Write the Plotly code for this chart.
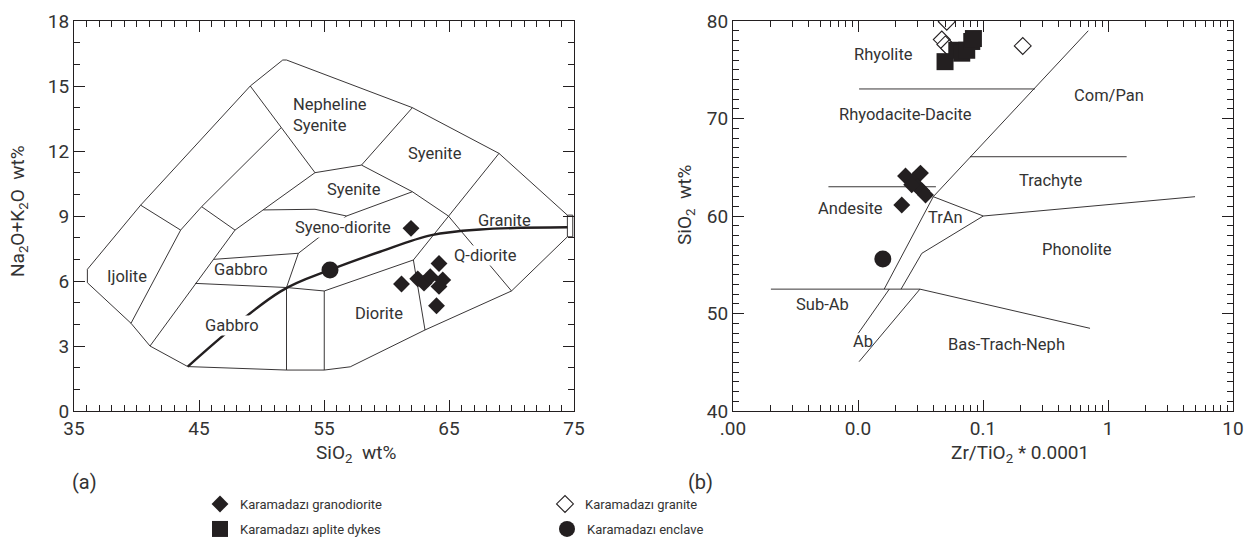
import math
import plotly.graph_objects as go

# ---------------- (a) TAS plutonic diagram: field boundaries (SiO2, Na2O+K2O) ----------------
TAS_OUTER = [(36.07, 6.54), (40.33, 9.5), (49.1, 15.0), (51.7, 16.2), (52.0, 16.2), (62.07, 14.0),
             (69.0, 11.89), (74.47, 9.04), (74.47, 8.04), (70.0, 5.54), (63.08, 3.74), (57.1, 2.04),
             (55.02, 1.89), (52.0, 1.89), (44.1, 2.05), (41.08, 3.0), (39.56, 4.05), (36.07, 5.92),
             (36.07, 6.54)]
TAS_IJOLITE_TOP = [(40.33, 9.5), (43.53, 8.35)]
TAS_IJOLITE_RIGHT = [(39.56, 4.05), (43.53, 8.35), (45.21, 9.43), (51.56, 13.07)]
TAS_SHORT = [(45.21, 9.43), (47.88, 8.35)]
TAS_GABBRO_LEFT = [(41.08, 3.0), (47.88, 8.35), (54.28, 11.0)]
TAS_NEPH_RIGHT = [(49.1, 15.0), (54.28, 11.0)]
TAS_SYENITE_TOP = [(54.28, 11.0), (58.0, 11.35), (62.07, 14.0)]
TAS_GRANITE_LEFT = [(58.0, 11.35), (62.07, 10.12), (64.95, 9.0), (70.0, 5.54)]
TAS_GRANITE_QD = [(69.0, 11.89), (62.15, 6.97), (63.08, 3.74)]
TAS_SYENITE_BOTTOM = [(50.15, 9.28), (54.28, 9.31), (56.8, 9.0), (62.07, 10.12)]
TAS_SYENODIORITE_LEFT = [(56.8, 9.0), (52.95, 7.28), (52.0, 5.7), (52.0, 1.89)]
TAS_GABBRO_MID = [(46.2, 7.0), (52.95, 7.28)]
TAS_DIORITE_TOP = [(44.7, 5.89), (52.0, 5.7), (55.02, 5.54), (62.15, 6.97)]
TAS_DIORITE_LEFT = [(55.02, 5.54), (55.02, 1.89)]
TAS_EDGE_BOX = [(74.47, 9.04), (74.9, 9.04), (74.9, 8.04), (74.47, 8.04)]
TAS_ALKALINE = [(44.1, 2.05), (51.5, 5.51), (55.48, 6.51), (59.48, 7.35), (63.6, 8.12),
                (67.48, 8.38), (74.47, 8.48)]

TAS_LABELS = ["Ijolite", "Gabbro", "Gabbro", "Diorite", "Q-diorite", "Granite",
              "Syeno-diorite", "Syenite", "Syenite", "Nepheline<br>Syenite"]
TAS_LABEL_X = [39.24, 48.34, 47.64, 59.4, 67.88, 69.44, 56.48, 57.36, 63.86, 52.44]
TAS_LABEL_Y = [6.21, 6.53, 3.95, 4.52, 7.2, 8.79, 8.45, 10.22, 11.88, 13.64]
TAS_LABEL_MASK = [False, False, True, False, True, False, True, False, False, False]

# samples (a)
GRANODIORITE_A_SIO2 = [61.96, 61.2, 62.5, 63.0, 63.5, 64.2, 64.5, 64.2, 64.0]
GRANODIORITE_A_ALK = [8.43, 5.86, 6.1, 5.9, 6.2, 6.81, 6.05, 5.75, 4.86]
ENCLAVE_A_SIO2 = [55.48]
ENCLAVE_A_ALK = [6.51]

# ---------------- (b) Winchester & Floyd: Zr/TiO2*0.0001 vs SiO2 ----------------
WF_MAIN = [(0.695, 79.0), (0.04, 61.98), (0.0162, 52.5)]
WF_RHYOLITE = [(0.0102, 73.03), (0.26, 73.03)]
WF_COMPAN = [(0.0787, 66.08), (1.41, 66.08)]
WF_ANDESITE = [(0.0058, 63.0), (0.042, 63.0)]
WF_TRAN_TOP = [(0.04, 61.98), (0.1005, 60.0), (4.97, 61.98)]
WF_TRAN_BOTTOM = [(0.1005, 60.0), (0.0324, 56.17), (0.0221, 52.5)]
WF_SUBAB = [(0.00201, 52.5), (0.0313, 52.5), (0.718, 48.48)]
WF_AB_LEFT = [(0.0178, 52.5), (0.01005, 47.97)]
WF_AB_RIGHT = [(0.0313, 52.5), (0.0102, 45.06)]

WF_LABELS = ["Rhyolite", "Rhyodacite-Dacite", "Com/Pan", "Trachyte", "Andesite", "TrAn",
             "Phonolite", "Sub-Ab", "Ab", "Bas-Trach-Neph"]
WF_LABEL_X = [0.01614, 0.024, 1.019, 0.3436, 0.00871, 0.0497, 0.570, 0.0052, 0.01096, 0.1542]
WF_LABEL_Y = [76.56, 70.4, 72.4, 63.64, 60.77, 59.85, 56.56, 50.92, 47.13, 46.82]

# samples (b)
GRANODIORITE_B_ZR = [0.024, 0.0275, 0.0316, 0.030, 0.0324, 0.0347, 0.0269, 0.0224]
GRANODIORITE_B_SIO2 = [64.1, 63.6, 64.4, 63.0, 62.6, 62.15, 63.2, 61.13]
GRANITE_B_ZR = [0.0513, 0.0468, 0.050, 0.0537, 0.208]
GRANITE_B_SIO2 = [79.93, 78.1, 77.6, 77.2, 77.44]
APLITE_B_ZR = [0.0497, 0.0617, 0.0676, 0.0741, 0.0813, 0.0838]
APLITE_B_SIO2 = [75.83, 77.0, 76.7, 77.0, 77.9, 78.2]
ENCLAVE_B_ZR = [0.0158]
ENCLAVE_B_SIO2 = [55.6]

# axis ticks
TAS_X_TICK0, TAS_X_DTICK = 35, 10
TAS_Y_TICK0, TAS_Y_DTICK = 0, 3
WF_X_TICKS = [0.001, 0.01, 0.1, 1, 10]
WF_X_TICKTEXT = [".00", "0.0", "0.1", "1", "10"]
WF_Y_TICK0, WF_Y_DTICK = 40, 10

SERIES_NAMES = ["Karamadazı granodiorite", "Karamadazı granite",
                "Karamadazı aplite dykes", "Karamadazı enclave"]

# ---------------- styling ----------------
FONT = "Roboto, 'Noto Sans', sans-serif"
INK = "#231f20"
TXT = "#333333"
W, H = 1256, 544

fig = go.Figure()


def add_line(pts, xa, ya, width=1.0, shape="linear"):
    fig.add_trace(go.Scatter(
        x=[p[0] for p in pts], y=[p[1] for p in pts], mode="lines",
        line=dict(color=INK, width=width, shape=shape),
        xaxis=xa, yaxis=ya, showlegend=False, hoverinfo="skip"))


for ln in [TAS_OUTER, TAS_IJOLITE_TOP, TAS_IJOLITE_RIGHT, TAS_SHORT, TAS_GABBRO_LEFT,
           TAS_NEPH_RIGHT, TAS_SYENITE_TOP, TAS_GRANITE_LEFT, TAS_GRANITE_QD,
           TAS_SYENITE_BOTTOM, TAS_SYENODIORITE_LEFT, TAS_GABBRO_MID, TAS_DIORITE_TOP,
           TAS_DIORITE_LEFT, TAS_EDGE_BOX]:
    add_line(ln, "x", "y", 0.9)
add_line(TAS_ALKALINE, "x", "y", 2.4, "spline")

for ln in [WF_MAIN, WF_RHYOLITE, WF_COMPAN, WF_ANDESITE, WF_TRAN_TOP, WF_TRAN_BOTTOM,
           WF_SUBAB, WF_AB_LEFT, WF_AB_RIGHT]:
    add_line(ln, "x2", "y2", 0.9)

# samples (a)
fig.add_trace(go.Scatter(
    x=GRANODIORITE_A_SIO2, y=GRANODIORITE_A_ALK, mode="markers", name=SERIES_NAMES[0],
    marker=dict(symbol="diamond", size=13, color=INK, line=dict(width=0)),
    xaxis="x", yaxis="y", legend="legend"))
fig.add_trace(go.Scatter(
    x=ENCLAVE_A_SIO2, y=ENCLAVE_A_ALK, mode="markers", name=SERIES_NAMES[3],
    marker=dict(symbol="circle", size=17, color=INK, line=dict(width=0)),
    xaxis="x", yaxis="y", legend="legend4"))

# samples (b)
fig.add_trace(go.Scatter(
    x=GRANODIORITE_B_ZR, y=GRANODIORITE_B_SIO2, mode="markers", name=SERIES_NAMES[0],
    marker=dict(symbol="diamond", size=13, color=INK, line=dict(width=0)),
    xaxis="x2", yaxis="y2", showlegend=False))
fig.add_trace(go.Scatter(
    x=GRANITE_B_ZR, y=GRANITE_B_SIO2, mode="markers", name=SERIES_NAMES[1],
    marker=dict(symbol="diamond", size=13, color="white", line=dict(width=1.1, color=INK)),
    xaxis="x2", yaxis="y2", legend="legend2"))
fig.add_trace(go.Scatter(
    x=APLITE_B_ZR, y=APLITE_B_SIO2, mode="markers", name=SERIES_NAMES[2],
    marker=dict(symbol="square", size=17, color=INK, line=dict(width=0)),
    xaxis="x2", yaxis="y2", legend="legend3"))
fig.add_trace(go.Scatter(
    x=ENCLAVE_B_ZR, y=ENCLAVE_B_SIO2, mode="markers", name=SERIES_NAMES[3],
    marker=dict(symbol="circle", size=17, color=INK, line=dict(width=0)),
    xaxis="x2", yaxis="y2", showlegend=False))

annotations = []
for t, x, y, m in zip(TAS_LABELS, TAS_LABEL_X, TAS_LABEL_Y, TAS_LABEL_MASK):
    multi = "<br>" in t
    a = dict(text=t, x=x, y=y, xref="x", yref="y", showarrow=False,
             xanchor="left" if multi else "center", yanchor="middle", align="left",
             font=dict(family=FONT, size=16.5, color=TXT), borderpad=0)
    if m:
        a["bgcolor"] = "white"
    annotations.append(a)
for t, x, y in zip(WF_LABELS, WF_LABEL_X, WF_LABEL_Y):
    annotations.append(dict(
        text=t, x=math.log10(x), y=y, xref="x2", yref="y2", showarrow=False,
        xanchor="center", yanchor="middle",
        font=dict(family=FONT, size=16.5, color=TXT)))

title_font = dict(family=FONT, size=19, color=TXT)
annotations += [
    dict(text="Na<sub>2</sub>O+K<sub>2</sub>O\u00a0\u00a0wt%", x=18 / W, y=1 - 211 / H,
         xref="paper", yref="paper", showarrow=False, textangle=-90,
         xanchor="center", yanchor="middle", font=title_font),
    dict(text="SiO<sub>2</sub>\u00a0\u00a0wt%", x=356 / W, y=1 - 453 / H,
         xref="paper", yref="paper", showarrow=False, xanchor="center", yanchor="middle",
         font=title_font),
    dict(text="SiO<sub>2</sub>\u00a0\u00a0wt%", x=685 / W, y=1 - 205 / H,
         xref="paper", yref="paper", showarrow=False, textangle=-90,
         xanchor="center", yanchor="middle", font=title_font),
    dict(text="Zr/TiO<sub>2</sub> * 0.0001", x=1020 / W, y=1 - 453 / H,
         xref="paper", yref="paper", showarrow=False, xanchor="center", yanchor="middle",
         font=title_font),
    dict(text="(a)", x=84 / W, y=1 - 482 / H, xref="paper", yref="paper", showarrow=False,
         xanchor="center", yanchor="middle", font=dict(family=FONT, size=20, color=TXT)),
    dict(text="(b)", x=700 / W, y=1 - 482 / H, xref="paper", yref="paper", showarrow=False,
         xanchor="center", yanchor="middle", font=dict(family=FONT, size=20, color=TXT)),
]

tick_font = dict(family=FONT, size=19, color=TXT)
common = dict(showline=True, linecolor=INK, linewidth=1, mirror="allticks", ticks="inside",
              ticklen=11, tickwidth=1, tickcolor=INK, showgrid=False, zeroline=False,
              tickfont=tick_font, automargin=False)

minor_lin = dict(ticks="inside", ticklen=6, tickwidth=1, tickcolor=INK, showgrid=False,
                 tick0=0, dtick=1)
log_minor_vals = [m * 10.0 ** e for e in range(-3, 1) for m in range(2, 10)]

legend_common = dict(font=dict(family=FONT, size=13, color=TXT), bgcolor="rgba(0,0,0,0)",
                     borderwidth=0, orientation="v", xanchor="left", yanchor="middle",
                     itemsizing="trace", tracegroupgap=0)

fig.update_layout(
    width=W, height=H, margin=dict(l=0, r=0, t=0, b=0),
    paper_bgcolor="white", plot_bgcolor="white",
    xaxis=dict(domain=[74 / W, 574 / W], range=[35, 75], anchor="y",
               tickmode="linear", tick0=TAS_X_TICK0, dtick=TAS_X_DTICK, minor=minor_lin,
               **common),
    yaxis=dict(domain=[133 / H, 523 / H], range=[0, 18], anchor="x",
               tickmode="linear", tick0=TAS_Y_TICK0, dtick=TAS_Y_DTICK, minor=minor_lin,
               **common),
    xaxis2=dict(domain=[733 / W, 1233 / W], type="log", range=[-3, 1], anchor="y2",
                tickmode="array", tickvals=WF_X_TICKS, ticktext=WF_X_TICKTEXT,
                minor=dict(ticks="inside", ticklen=6, tickwidth=1, tickcolor=INK,
                           showgrid=False, tickmode="array", tickvals=log_minor_vals),
                **common),
    yaxis2=dict(domain=[133 / H, 523 / H], range=[40, 80], anchor="x2",
                tickmode="linear", tick0=WF_Y_TICK0, dtick=WF_Y_DTICK, minor=minor_lin,
                **common),
    annotations=annotations,
    legend=dict(x=200 / W, y=1 - 504 / H, **legend_common),
    legend2=dict(x=545 / W, y=1 - 504 / H, **legend_common),
    legend3=dict(x=200 / W, y=1 - 529 / H, **legend_common),
    legend4=dict(x=547 / W, y=1 - 529 / H, **legend_common),
)

fig.write_html("out.html")
